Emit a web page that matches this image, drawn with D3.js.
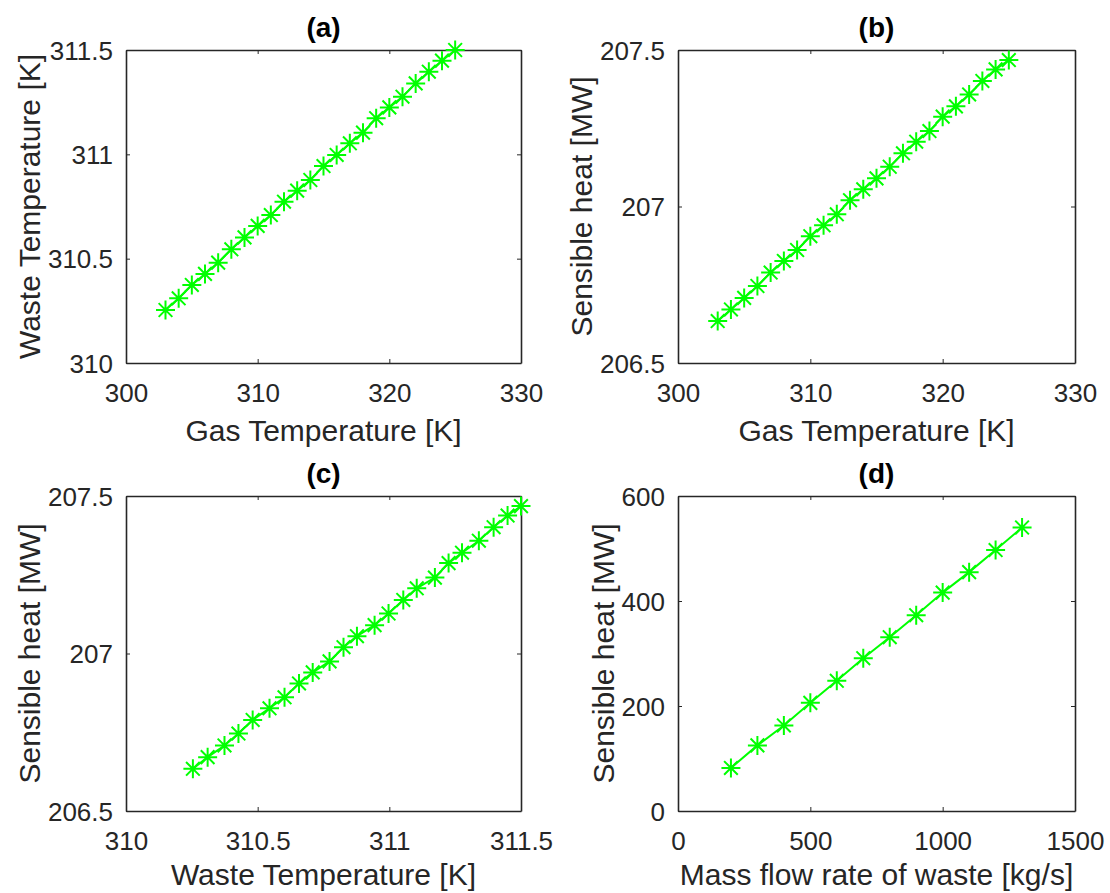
<!DOCTYPE html>
<html>
<head>
<meta charset="utf-8">
<script src="https://cdn.jsdelivr.net/npm/d3@7"></script>
<style>
  html, body { margin: 0; padding: 0; background: #fff; }
  svg { display: block; font-family: "Liberation Sans", Arial, Helvetica, sans-serif; }
</style>
</head>
<body>
<svg id="chart" width="1110" height="893"></svg>
<script>
// ---------------- data ----------------
const gasTemperature = [303, 304, 305, 306, 307, 308, 309, 310, 311, 312, 313, 314,
  315, 316, 317, 318, 319, 320, 321, 322, 323, 324, 325];
const wasteTemperature = [310.254, 310.310, 310.374, 310.427, 310.481, 310.545, 310.602,
  310.657, 310.709, 310.773, 310.826, 310.877, 310.944, 310.997, 311.053, 311.104,
  311.173, 311.225, 311.276, 311.340, 311.396, 311.449, 311.500];
const sensibleHeat = [206.634, 206.671, 206.708, 206.746, 206.789, 206.826, 206.861,
  206.905, 206.940, 206.975, 207.020, 207.055, 207.090, 207.127, 207.170, 207.207,
  207.241, 207.287, 207.320, 207.358, 207.401, 207.438, 207.468];
const massFlowRate = [200, 300, 400, 500, 600, 700, 800, 900, 1000, 1100, 1200, 1300];
const sensibleHeatMass = [82, 125, 163, 206, 248, 291, 331, 373, 416, 455, 497, 540];

const ticksGasT = [300, 310, 320, 330];
const ticksWasteT = [310, 310.5, 311, 311.5];
const ticksHeat = [206.5, 207, 207.5];
const ticksMass = [0, 500, 1000, 1500];
const ticksHeatMass = [0, 200, 400, 600];

const titles = ["(a)", "(b)", "(c)", "(d)"];
const xLabels = ["Gas Temperature [K]", "Gas Temperature [K]", "Waste Temperature [K]", "Mass flow rate of waste [kg/s]"];
const yLabels = ["Waste Temperature [K]", "Sensible heat [MW]", "Sensible heat [MW]", "Sensible heat [MW]"];

// ---------------- layout ----------------
const boxes = [
  {x0: 126, x1: 521, y0: 50, y1: 363, xl: 78},
  {x0: 678, x1: 1075, y0: 50, y1: 363, xl: 78},
  {x0: 126, x1: 521, y0: 496, y1: 811, xl: 74},
  {x0: 678, x1: 1075, y0: 496, y1: 811, xl: 74}
];
const panels = [
  {xs: gasTemperature, ys: wasteTemperature, xt: ticksGasT, yt: ticksWasteT},
  {xs: gasTemperature, ys: sensibleHeat, xt: ticksGasT, yt: ticksHeat},
  {xs: wasteTemperature, ys: sensibleHeat, xt: ticksWasteT, yt: ticksHeat},
  {xs: massFlowRate, ys: sensibleHeatMass, xt: ticksMass, yt: ticksHeatMass}
];

const AX = "#262626";
const GREEN = "#00ff00";
const TICK_FS = 26, LABEL_FS = 30, TITLE_FS = 28;
const fmt = v => String(v);

const svg = d3.select("#chart");
svg.append("rect").attr("width", 1110).attr("height", 893).attr("fill", "#fff");

function asterisk(g, r) {
  const d = r * 0.72;
  const p = `M${-r},0L${r},0M0,${-r}L0,${r}M${-d},${-d}L${d},${d}M${-d},${d}L${d},${-d}`;
  g.append("path").attr("d", p).attr("stroke", GREEN).attr("stroke-width", 2)
    .attr("fill", "none").attr("stroke-linecap", "butt");
}

panels.forEach((p, i) => {
  const b = boxes[i];
  const x = d3.scaleLinear().domain(d3.extent(p.xt)).range([b.x0, b.x1]);
  const y = d3.scaleLinear().domain(d3.extent(p.yt)).range([b.y1, b.y0]);
  const g = svg.append("g");
  const tl = 4;

  const axB = g.append("g").attr("transform", `translate(0,${b.y1})`)
    .call(d3.axisBottom(x).tickValues(p.xt).tickFormat(fmt).tickSizeInner(-tl).tickSizeOuter(0).tickPadding(0));
  const axT = g.append("g").attr("transform", `translate(0,${b.y0})`)
    .call(d3.axisTop(x).tickValues(p.xt).tickFormat("").tickSizeInner(-tl).tickSizeOuter(0));
  const axL = g.append("g").attr("transform", `translate(${b.x0},0)`)
    .call(d3.axisLeft(y).tickValues(p.yt).tickFormat(fmt).tickSizeInner(-tl).tickSizeOuter(0).tickPadding(13));
  const axR = g.append("g").attr("transform", `translate(${b.x1},0)`)
    .call(d3.axisRight(y).tickValues(p.yt).tickFormat("").tickSizeInner(-tl).tickSizeOuter(0));

  [axB, axT, axL, axR].forEach(a => {
    a.select(".domain").attr("stroke", AX).attr("stroke-width", 1.6);
    a.selectAll(".tick line").attr("stroke", AX).attr("stroke-width", 1);
    a.selectAll("text").attr("fill", AX).attr("font-size", TICK_FS)
      .attr("font-family", "Liberation Sans, Arial, sans-serif");
  });
  axB.selectAll(".tick text").attr("dy", null).attr("y", 0)
    .attr("transform", "translate(0,39)");
  axL.selectAll(".tick text").attr("dy", "0.35em");

  const line = d3.line().x((d, k) => x(p.xs[k])).y(d => y(d));
  g.append("path").datum(p.ys).attr("d", line).attr("fill", "none")
    .attr("stroke", GREEN).attr("stroke-width", 2);
  p.ys.forEach((v, k) => {
    const m = g.append("g").attr("transform", `translate(${x(p.xs[k])},${y(v)})`);
    asterisk(m, 9.5);
  });

  g.append("text").attr("x", (b.x0 + b.x1) / 2).attr("y", b.y0 - 13)
    .attr("text-anchor", "middle").attr("font-weight", "bold")
    .attr("font-size", TITLE_FS).attr("fill", "#000").text(titles[i]);

  g.append("text").attr("x", (b.x0 + b.x1) / 2).attr("y", b.y1 + b.xl)
    .attr("text-anchor", "middle").attr("font-size", LABEL_FS).attr("fill", AX)
    .text(xLabels[i]);

  let minX = Infinity;
  axL.selectAll(".tick text").each(function() {
    const bb = this.getBBox();
    minX = Math.min(minX, b.x0 + bb.x);
  });
  const cx = minX - 18;
  g.append("text").attr("transform", `translate(${cx},${(b.y0 + b.y1) / 2}) rotate(-90)`)
    .attr("text-anchor", "middle").attr("dy", "0.35em")
    .attr("font-size", LABEL_FS).attr("fill", AX).text(yLabels[i]);
});
</script>
</body>
</html>
